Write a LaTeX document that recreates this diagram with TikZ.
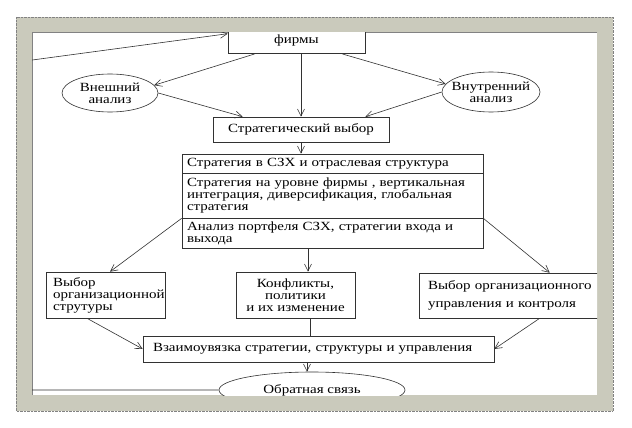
\documentclass[tikz,border=0pt]{standalone}
\usepackage{fontspec}
\setmainfont[FakeStretch=1.2]{Liberation Serif}
\usepackage{tikz}
\usetikzlibrary{arrows.meta,shapes.geometric}
\definecolor{frame1}{RGB}{202,202,188}
\definecolor{frame2}{RGB}{130,130,130}
\definecolor{line1}{RGB}{50,50,50}

\begin{document}
\begin{tikzpicture}[x=1pt, y=-1pt,
  every node/.style={font=\fontsize{12.5}{12}\selectfont, inner sep=0pt},
  box/.style={rectangle, draw=line1, line width=0.6pt, fill=white},
  oval/.style={ellipse, draw=line1, line width=0.6pt, fill=white, align=center, inner xsep=-7pt, inner ysep=2pt},
  arr/.style={draw=line1, line width=0.6pt, -{Straight Barb[length=7pt,width=7pt]}}]
\useasboundingbox (0,0) rectangle (632,428);
% Frame
\fill[frame1] (16,17) rectangle (613,411);
\draw[frame2, densely dotted] (16,17) rectangle (613,411);
\fill[white] (32,33) rectangle (597,395);
\draw[frame2, line width=1pt] (32,395) -- (32,33) -- (597,33);

\begin{scope}
\clip (32,33) rectangle (597,395);
% Points
\node[box, minimum width=137pt, minimum height=30pt, anchor=south, align=center] (mission) at (296.5,54) {\mbox{}\\фирмы};
\node[oval, minimum width=96pt, minimum height=38pt] (ext) at (110,93) {Внешний\\анализ};
\node[oval, minimum width=98pt, minimum height=40pt] (int) at (491,92) {Внутренний\\анализ};
\node[box, minimum width=176pt, minimum height=25pt] (choice) at (301,129.5) {Стратегический выбор};
\node[box, text width=291pt, inner xsep=5pt, align=left, minimum height=19pt] (s1) at (332.5,163.5) {Стратегия в СЗХ и отраслевая структура};
\node[box, text width=291pt, inner xsep=5pt, align=left, minimum height=45pt] (s2) at (332.5,195.5) {Стратегия на уровне фирмы , вертикальная\\интеграция, диверсификация, глобальная\\стратегия};
\node[box, text width=291pt, inner xsep=5pt, align=left, minimum height=30pt] (s3) at (332.5,233) {Анализ портфеля СЗХ, стратегии входа и\\выхода};
\node[box, text width=105pt, inner xsep=7pt, align=left, minimum height=46pt] (org) at (105.5,295) {Выбор\\организационной\\струтуры};
\node[box, minimum width=119pt, minimum height=46pt, align=center] (conf) at (295.5,295) {Конфликты,\\политики\\и их изменение};
\node[box, text width=190pt, inner xsep=9pt, align=left, minimum height=45pt] (ctrl) at (523,295.5) {Выбор организационного\\[6pt]управления и контроля};
\node[box, text width=331pt, inner xsep=10pt, align=left, minimum height=26pt] (link) at (318.5,349) {Взаимоувязка стратегии, структуры и управления};
\node[oval, minimum width=186pt, minimum height=36pt] (fb) at (312,390) {Обратная связь};
\coordinate (fbl) at (10,390);
\coordinate (fbt) at (10,63);

%Lines
\draw[arr] ([xshift=-42pt]mission.south) -- (ext.10);
\draw[arr] (choice.north |- mission.south) -- (choice.north);
\draw[arr] ([xshift=46pt]mission.south) -- (int.170);
\draw[arr] (ext.east) -- ([xshift=30pt]choice.north west);
\draw[arr] (int.west) -- ([xshift=-24pt]choice.north east);
\draw[arr] (choice.south) -- (choice.south |- s1.north);
\draw[arr] (s2.south west) -- ([xshift=4.5pt]org.north);
\draw[arr] (s2.south east) -- ([xshift=131pt]ctrl.north west);
\draw[arr] (308,0 |- s3.south) -- (308,0 |- conf.north);
\draw[draw=line1, line width=0.6pt] (310,0 |- conf.south) -- (310,0 |- link.north);
\draw[arr] ([xshift=-18.5pt]org.south) -- (link.west);
\draw[arr] ([xshift=121pt]ctrl.south west) -- (link.east);
\draw[arr] (307,0 |- link.south) -- (307,0 |- fb.north);
\draw[arr] (fb.west) -- (fbl) -- (fbt) -- ([yshift=5pt]mission.west);
\end{scope}
\end{tikzpicture}
\end{document}
